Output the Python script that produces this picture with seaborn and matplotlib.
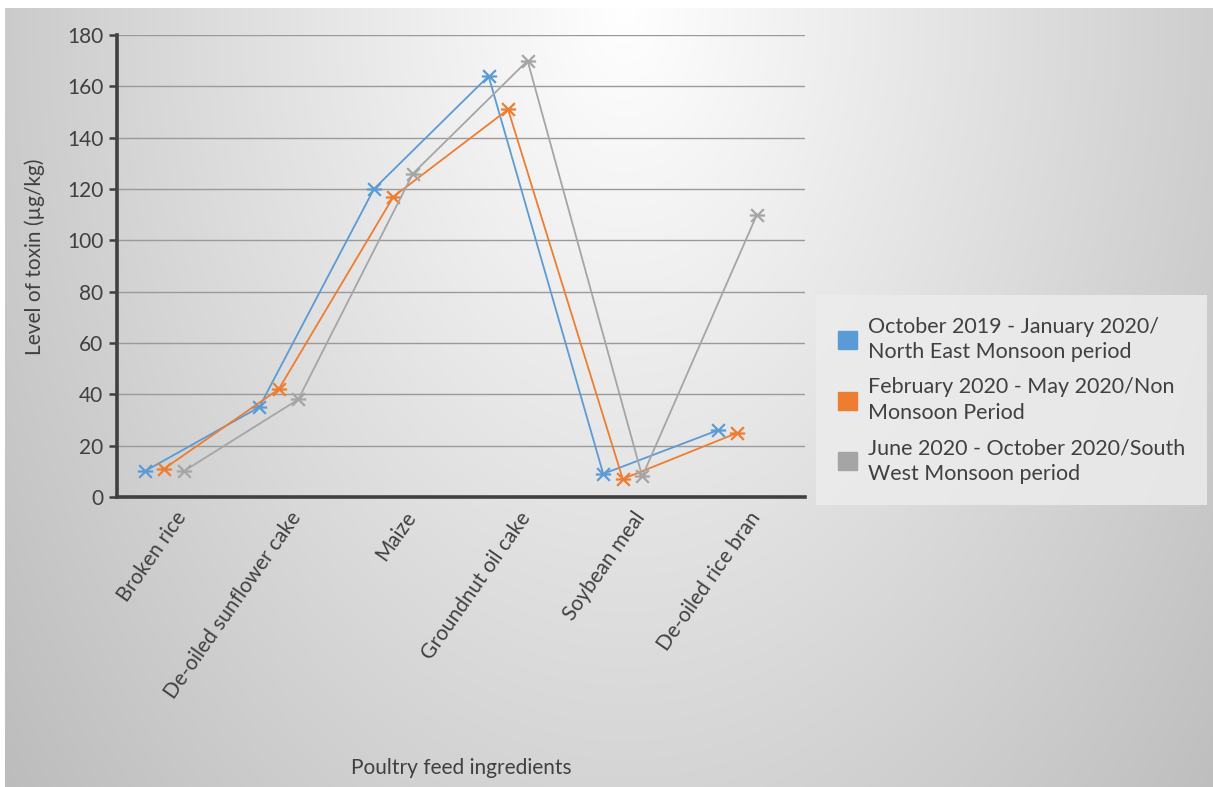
import numpy as np
import pandas as pd
import seaborn as sns
import matplotlib.pyplot as plt
from matplotlib.patches import Patch
from matplotlib.path import Path

# Data
ingredients = ["Broken rice", "De-oiled sunflower cake", "Maize",
               "Groundnut oil cake", "Soybean meal", "De-oiled rice bran"]
series_names = ["October 2019 - January 2020/\nNorth East Monsoon period",
                "February 2020 - May 2020/Non\nMonsoon Period",
                "June 2020 - October 2020/South\nWest Monsoon period"]
ne_monsoon = [10, 35, 120, 164, 9, 26]
non_monsoon = [11, 42, 117, 151, 7, 25]
sw_monsoon = [10, 38, 126, 170, 8, 110]

colors = ["#5B9BD5", "#ED7D31", "#A5A5A5"]
offsets = [-0.26, -0.09, 0.08]

rows = []
for name, vals, off in zip(series_names, [ne_monsoon, non_monsoon, sw_monsoon], offsets):
    for i, v in enumerate(vals):
        rows.append({"series": name, "pos": i + off, "value": v})
df = pd.DataFrame(rows)

# star marker: X plus horizontal bar (Excel style)
star = Path([(-1, -1), (1, 1), (-1, 1), (1, -1), (-1.2, 0), (1.2, 0)],
            [Path.MOVETO, Path.LINETO, Path.MOVETO, Path.LINETO, Path.MOVETO, Path.LINETO])

sns.set_theme(style="white")
plt.rcParams["font.family"] = ["Lato", "DejaVu Sans"]
txt = "#404040"

fig = plt.figure(figsize=(12.13, 7.87), dpi=100)

# gradient background of the chart area
bg = fig.add_axes([0.004, 0, 0.996, 0.99], zorder=-5)
h, w = 780, 1208
yy, xx = np.mgrid[0:h, 0:w]
t = np.sqrt(((xx - 620) / 720.0) ** 2 + (yy / 1100.0) ** 2)
shade = np.clip(255 - 60 * t, 188, 255) / 255.0
bg.imshow(np.dstack([shade] * 3), aspect="auto", interpolation="bilinear")
bg.set_axis_off()

ax = fig.add_axes([0.0965, 0.3685, 0.5672, 0.587])
ax.patch.set_alpha(0)

for name, color in zip(series_names, colors):
    sns.lineplot(data=df[df["series"] == name], x="pos", y="value", ax=ax,
                 color=color, linewidth=1.3, marker=star, markersize=11,
                 markeredgewidth=1.6, markeredgecolor=color, legend=False)

ax.set_xlim(-0.5, len(ingredients) - 0.5)
ax.set_ylim(0, 180)
ax.set_yticks(range(0, 181, 20))
ax.set_xticks(range(len(ingredients)))
ax.set_xticklabels(ingredients, rotation=55, ha="right", rotation_mode="anchor",
                   fontsize=15, color=txt)
ax.tick_params(axis="y", labelsize=15, labelcolor=txt, length=6, width=1.8,
               color="#404040", direction="out", left=True, pad=4)
ax.tick_params(axis="x", length=0, pad=8)

ax.grid(True, axis="y", color="#9a9a9a", linewidth=1)
ax.grid(False, axis="x")
for side in ["top", "right"]:
    ax.spines[side].set_visible(False)
for side in ["left", "bottom"]:
    ax.spines[side].set_color("#404040")
    ax.spines[side].set_linewidth(2.6)

ax.set_xlabel("Poultry feed ingredients", fontsize=15, color=txt)
ax.xaxis.set_label_coords(0.5, -0.565)
ax.set_ylabel("Level of toxin (µg/kg)", fontsize=15, color=txt)
ax.yaxis.set_label_coords(-0.105, 0.52)

handles = [Patch(facecolor=c, edgecolor=c) for c in colors]
leg = fig.legend(handles, series_names, loc="center left",
                 bbox_to_anchor=(0.664, 0.4915), fontsize=15.5, frameon=True,
                 handlelength=0.9, handleheight=0.9, handletextpad=0.5,
                 labelspacing=0.7, borderpad=1.0, fancybox=False)
leg.get_frame().set_facecolor("#ececec")
leg.get_frame().set_edgecolor("none")
leg.get_frame().set_alpha(0.85)
for t_ in leg.get_texts():
    t_.set_color(txt)
    t_.set_linespacing(1.35)

fig.savefig("out.png", dpi=100)
